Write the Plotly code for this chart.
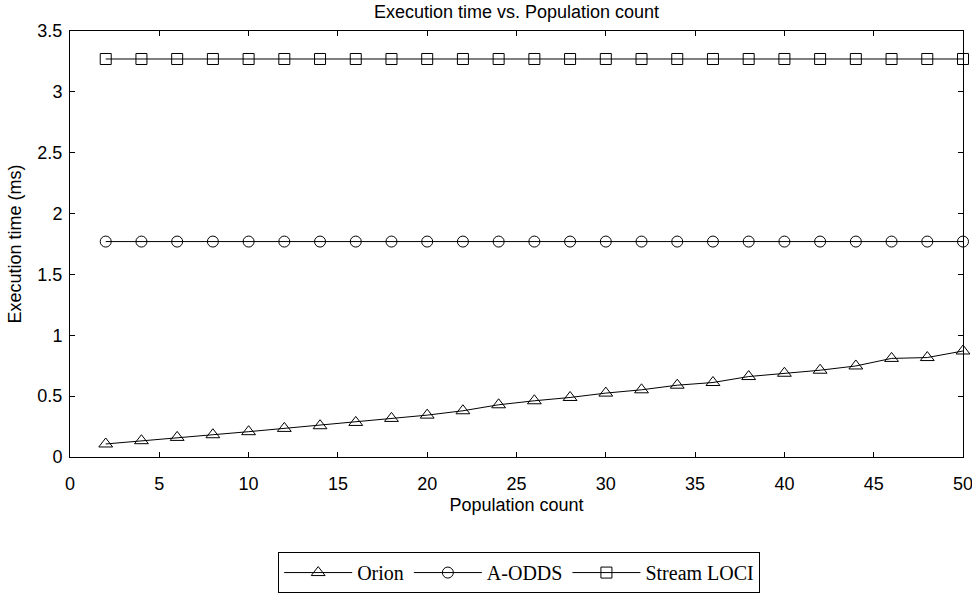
import plotly.graph_objects as go

population = list(range(2, 51, 2))
orion = [0.107, 0.134, 0.161, 0.183, 0.208, 0.235, 0.257, 0.284, 0.317, 0.344,
         0.38, 0.429, 0.462, 0.489, 0.525, 0.552, 0.59, 0.612, 0.661, 0.688,
         0.713, 0.748, 0.81, 0.817, 0.871]
aodds = [1.77] * 25
stream_loci = [3.27] * 25

series = [
    ("Orion", orion, "triangle-up-open", 12),
    ("A-ODDS", aodds, "circle-open", 11),
    ("Stream LOCI", stream_loci, "square-open", 11),
]

fig = go.Figure()
for name, vals, sym, sz in series:
    fig.add_trace(go.Scatter(
        x=population, y=vals, name=name, mode="lines+markers", cliponaxis=False,
        line=dict(color="black", width=1),
        marker=dict(symbol=sym, size=sz, color="black", line=dict(width=1, color="black")),
    ))

SANS = "Liberation Sans, Arial"
axis_common = dict(
    showline=True, linecolor="black", linewidth=1, mirror="ticks",
    ticks="inside", ticklen=5, tickcolor="black", tickwidth=1,
    showgrid=False, zeroline=False, automargin=False, ticklabeloverflow="allow",
    tickfont=dict(family=SANS, size=18, color="black"),
)

fig.update_layout(
    width=972, height=594,
    paper_bgcolor="white", plot_bgcolor="white",
    margin=dict(l=70, r=9, t=31, b=137),
    title=dict(text="Execution time vs. Population count", xref="paper", x=0.5,
               xanchor="center", yref="container", y=0.98, yanchor="middle",
               font=dict(family=SANS, size=18, color="black")),
    xaxis=dict(range=[0, 50], tickvals=list(range(0, 51, 5)), ticklabelstandoff=10,
               title=dict(text="Population count", standoff=5,
                          font=dict(family=SANS, size=18, color="black")),
               **axis_common),
    yaxis=dict(range=[0, 3.5], tickvals=[0, 0.5, 1, 1.5, 2, 2.5, 3, 3.5],
               ticktext=["0", "0.5", "1", "1.5", "2", "2.5", "3", "3.5"],
               ticklabelstandoff=3,
               title=dict(text="Execution time (ms)", standoff=11,
                          font=dict(family=SANS, size=18, color="black")),
               **axis_common),
    legend=dict(orientation="h", xref="paper", x=0.503, xanchor="center",
                yref="container", y=0.0706, yanchor="top",
                bordercolor="black", borderwidth=1, bgcolor="white",
                font=dict(family="Liberation Serif, Times New Roman", size=20, color="black"),
                itemwidth=68),
    showlegend=True,
)

fig.write_html("out.html", config={"displayModeBar": False},
               post_script="document.body.style.margin='0';document.body.style.overflow='hidden';")
